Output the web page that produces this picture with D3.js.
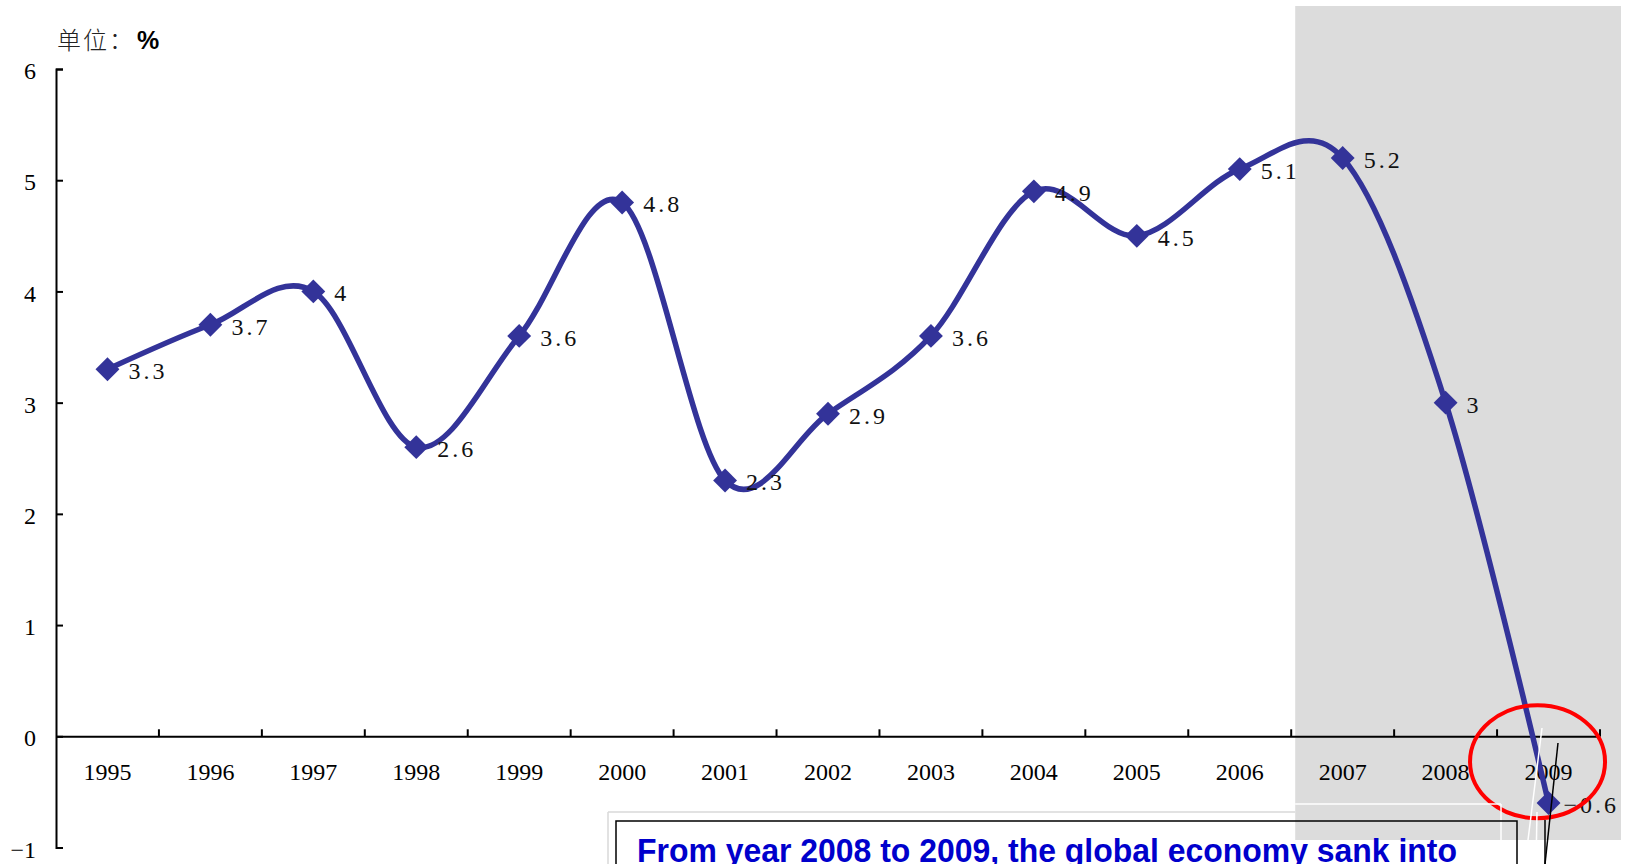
<!DOCTYPE html>
<html>
<head>
<meta charset="utf-8">
<script src="https://cdn.jsdelivr.net/npm/d3@7"></script>
<style>
  html, body { margin: 0; padding: 0; background: #fff; }
  svg { display: block; }
</style>
</head>
<body>
<svg id="chart" width="1626" height="864"></svg>
<script>
// ---- data ----
const years = ["1995","1996","1997","1998","1999","2000","2001","2002","2003","2004","2005","2006","2007","2008","2009"];
const growth = [3.3, 3.7, 4, 2.6, 3.6, 4.8, 2.3, 2.9, 3.6, 4.9, 4.5, 5.1, 5.2, 3, -0.6];
const yTicks = [-1, 0, 1, 2, 3, 4, 5, 6];
const unitLabel = "单位：";
const unitSymbol = "%";
const noteText = "From year 2008 to 2009, the global economy sank into";
const shadedFrom = "2007";

(function () {
const svg = d3.select("#chart");
const pLeft = 56, pRight = 1600, pTop = 69, pBottom = 847.5;

const x = d3.scaleBand().domain(years).range([pLeft, pRight]).padding(0);
const y = d3.scaleLinear().domain([-1, 6]).range([pBottom, pTop]);
const cx = d => x(d) + x.bandwidth() / 2;

const serif = "'Liberation Serif', 'DejaVu Serif', serif";

// shaded forecast region
svg.append("rect")
  .attr("x", x(shadedFrom) + 4).attr("y", 6)
  .attr("width", 1621 - (x(shadedFrom) + 4)).attr("height", 834)
  .attr("fill", "#dcdcdc");

// y axis
const yAxis = d3.axisLeft(y).tickValues(yTicks).tickSizeInner(-7).tickSizeOuter(-7).tickPadding(20)
  .tickFormat(d => d < 0 ? "\u2212" + Math.abs(d) : d);
const gy = svg.append("g").attr("transform", `translate(${pLeft},0)`).call(yAxis);
gy.select(".domain").attr("stroke", "#000").attr("stroke-width", 2);
gy.selectAll(".tick line").attr("stroke", "#000").attr("stroke-width", 2);
gy.selectAll("text").attr("font-family", serif).attr("font-size", 24).attr("fill", "#000").attr("dy", "0.4em");

// x axis at zero
const xAxis = d3.axisBottom(x).tickSize(0).tickPadding(27);
const gx = svg.append("g").attr("transform", `translate(0,${y(0)})`).call(xAxis);
gx.select(".domain").attr("stroke", "#000").attr("stroke-width", 2);
gx.selectAll("text").attr("font-family", serif).attr("font-size", 24).attr("fill", "#000");
const bounds = years.slice(1).map(d => x(d)).concat([pRight]);
gx.selectAll(".btick").data(bounds).enter().append("line")
  .attr("class", "btick")
  .attr("x1", d => d).attr("x2", d => d)
  .attr("y1", 0).attr("y2", -7)
  .attr("stroke", "#000").attr("stroke-width", 2);

// unit label
const ut = svg.append("text").attr("x", 57).attr("y", 49)
  .attr("font-size", 24).attr("fill", "#222");
ut.append("tspan").attr("font-family", "'Noto Sans CJK SC', sans-serif").attr("font-weight", 300)
  .attr("letter-spacing", 2).text(unitLabel);
ut.append("tspan").attr("x", 137).attr("font-family", "'Liberation Sans', Arial, sans-serif")
  .attr("font-weight", "bold").attr("font-size", 25).attr("fill", "#000").text(unitSymbol);

// series
const pts = years.map((d, i) => ({year: d, v: growth[i]}));
const line = d3.line().x(d => cx(d.year)).y(d => y(d.v)).curve(d3.curveCardinal.tension(0));
svg.append("path").datum(pts)
  .attr("d", line)
  .attr("fill", "none").attr("stroke", "#333399").attr("stroke-width", 5.5)
  .attr("stroke-linejoin", "round").attr("stroke-linecap", "round");

const diamond = d3.symbol().type(d3.symbolSquare).size(285);
svg.selectAll(".mk").data(pts).enter().append("path")
  .attr("class", "mk")
  .attr("d", diamond)
  .attr("transform", d => `translate(${cx(d.year)},${y(d.v)}) rotate(45)`)
  .attr("fill", "#333399");

svg.selectAll(".lbl").data(pts).enter().append("text")
  .attr("class", "lbl")
  .attr("x", d => cx(d.year) + (d.v < 0 ? 15 : 21))
  .attr("y", d => y(d.v) + 10)
  .attr("font-family", serif).attr("font-size", 24).attr("fill", "#111")
  .attr("letter-spacing", 3)
  .text(d => d.v < 0 ? "\u2212" + Math.abs(d.v) : d.v);

// text box frames
svg.append("line").attr("x1", 608).attr("x2", x(shadedFrom) + 4).attr("y1", 812).attr("y2", 812)
  .attr("stroke", "#d9d9d9").attr("stroke-width", 1.5);
svg.append("line").attr("x1", 608).attr("x2", 608).attr("y1", 812).attr("y2", 864)
  .attr("stroke", "#d9d9d9").attr("stroke-width", 1.5);

// red ellipse highlight
svg.append("ellipse")
  .attr("cx", cx("2009") - 11).attr("cy", 761.7).attr("rx", 67.5).attr("ry", 56.5)
  .attr("fill", "none").attr("stroke", "#ff0000").attr("stroke-width", 4);

// white artifact lines
const wl = [[x(shadedFrom) + 4, 804, 1501, 804], [1501, 804, 1501, 864], [1542, 728, 1528, 840],
            [1510, 840, 1510, 864], [1531, 840, 1531, 864], [1537, 812, 1536, 864]];
svg.selectAll(".wl").data(wl).enter().append("line").attr("class", "wl")
  .attr("x1", d => d[0]).attr("y1", d => d[1]).attr("x2", d => d[2]).attr("y2", d => d[3])
  .attr("stroke", "#fff").attr("stroke-width", 1.5);

// black text box border
svg.append("path")
  .attr("d", "M616,870 V821 H1517 V870")
  .attr("fill", "none").attr("stroke", "#000").attr("stroke-width", 1.5);

// black artifact lines
const bl = [[1558, 743, 1545, 864], [1545, 820, 1545, 864]];
svg.selectAll(".bl").data(bl).enter().append("line").attr("class", "bl")
  .attr("x1", d => d[0]).attr("y1", d => d[1]).attr("x2", d => d[2]).attr("y2", d => d[3])
  .attr("stroke", "#000").attr("stroke-width", 1.5);

// note text
svg.append("text")
  .attr("x", 637).attr("y", 862)
  .attr("font-family", "'Liberation Sans', Arial, sans-serif")
  .attr("font-weight", "bold").attr("font-size", 33)
  .attr("fill", "#0000cc")
  .attr("textLength", 820).attr("lengthAdjust", "spacingAndGlyphs")
  .text(noteText);
})();
</script>
</body>
</html>
